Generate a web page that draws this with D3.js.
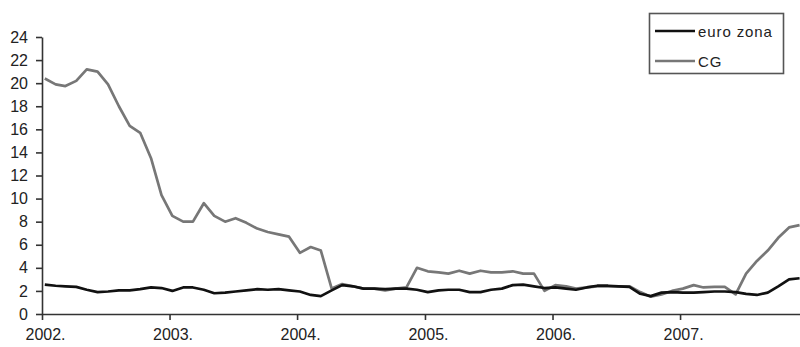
<!DOCTYPE html>
<html>
<head>
<meta charset="utf-8">
<script src="https://cdn.jsdelivr.net/npm/d3@7"></script>
<style>
  html, body { margin: 0; padding: 0; background: #fff; }
  svg { display: block; }
  .axis text { font-family: "Liberation Sans", Arial, sans-serif; font-size: 16px; fill: #222; }
  .axis path, .axis line { stroke: #333; stroke-width: 1.6; }
  .legend text { font-family: "Liberation Sans", Arial, sans-serif; font-size: 15px; fill: #222; letter-spacing: 0.9px; }
</style>
</head>
<body>
<script>
// ---- data (monthly, Jan 2002 – Dec 2007) ----
const months = [];
for (let y = 2002; y <= 2007; y++) for (let m = 1; m <= 12; m++) months.push(y + "-" + String(m).padStart(2, "0"));

const euroZona = [
  2.55, 2.45, 2.4, 2.35, 2.1, 1.9, 1.95, 2.05, 2.05, 2.15, 2.3, 2.25,
  2.0, 2.3, 2.3, 2.1, 1.8, 1.85, 1.95, 2.05, 2.15, 2.1, 2.15, 2.05,
  1.95, 1.65, 1.55, 2.05, 2.5, 2.4, 2.2, 2.2, 2.15, 2.2, 2.2, 2.1,
  1.9, 2.05, 2.1, 2.1, 1.9, 1.9, 2.1, 2.2, 2.5, 2.55, 2.4, 2.25,
  2.3, 2.2, 2.1, 2.3, 2.45, 2.45, 2.4, 2.35, 1.75, 1.55, 1.85, 1.9,
  1.85, 1.85, 1.9, 1.95, 1.95, 1.9, 1.75, 1.65, 1.85, 2.4, 3.0, 3.1
];
const cg = [
  20.4, 19.9, 19.75, 20.2, 21.2, 21.0, 19.9, 18.0, 16.3, 15.7, 13.5, 10.3,
  8.5, 8.0, 8.0, 9.6, 8.5, 8.0, 8.3, 7.9, 7.4, 7.1, 6.9, 6.7,
  5.3, 5.8, 5.5, 2.2, 2.6, 2.4, 2.2, 2.2, 2.05, 2.2, 2.3, 4.0,
  3.7, 3.6, 3.5, 3.75, 3.5, 3.75, 3.6, 3.6, 3.7, 3.5, 3.5, 2.0,
  2.5, 2.4, 2.2, 2.3, 2.4, 2.4, 2.4, 2.4, 1.9, 1.5, 1.7, 2.0,
  2.2, 2.5, 2.3, 2.35, 2.35, 1.7, 3.5, 4.6, 5.5, 6.6, 7.5, 7.7
];
const yTicks = [0, 2, 4, 6, 8, 10, 12, 14, 16, 18, 20, 22, 24];
const yearTicks = [2002, 2003, 2004, 2005, 2006, 2007];
const seriesNames = ["euro zona", "CG"];

// ---- layout ----
const W = 800, H = 347;
const svg = d3.select("body").append("svg").attr("width", W).attr("height", H);

const parse = s => { const [y, m] = s.split("-").map(Number); return new Date(y, m - 1, 9); };
const x = d3.scaleTime().domain([new Date(2002, 0, 1), new Date(2008, 0, 1)]).range([42, 807.6]);
const y = d3.scaleLinear().domain([0, 24]).range([314, 37]);

svg.append("clipPath").attr("id", "clip").append("rect").attr("x", 0).attr("y", 0).attr("width", 800).attr("height", H);

// axes
const gx = svg.append("g").attr("class", "axis").attr("transform", "translate(0,314)")
  .call(d3.axisBottom(x).tickValues(yearTicks.map(yr => new Date(yr, 0, 1)))
    .tickFormat(d => d.getFullYear() + ".").tickSize(6).tickSizeOuter(0).tickPadding(9));
gx.selectAll("text").attr("dx", "3");

svg.append("g").attr("class", "axis").attr("transform", "translate(42,0)")
  .call(d3.axisLeft(y).tickValues(yTicks).tickSize(6).tickSizeOuter(0).tickPadding(8));

// lines
const line = d3.line().x((d, i) => x(parse(months[i]))).y(d => y(d));
const g = svg.append("g").attr("clip-path", "url(#clip)");
g.append("path").datum(cg).attr("d", line).attr("fill", "none")
  .attr("stroke", "#777").attr("stroke-width", 2.7).attr("stroke-linejoin", "round");
g.append("path").datum(euroZona).attr("d", line).attr("fill", "none")
  .attr("stroke", "#111").attr("stroke-width", 2.7).attr("stroke-linejoin", "round");

// legend
const lg = svg.append("g").attr("class", "legend");
lg.append("rect").attr("x", 649.5).attr("y", 13.5).attr("width", 134).attr("height", 60)
  .attr("fill", "#fff").attr("stroke", "#555").attr("stroke-width", 1.6);
const legendItems = [
  { name: seriesNames[0], color: "#111", yy: 31 },
  { name: seriesNames[1], color: "#777", yy: 61 }
];
legendItems.forEach(it => {
  lg.append("line").attr("x1", 655).attr("x2", 695).attr("y1", it.yy).attr("y2", it.yy)
    .attr("stroke", it.color).attr("stroke-width", 2.7);
  lg.append("text").attr("x", 698).attr("y", it.yy + 5.5).text(it.name);
});
</script>
</body>
</html>
